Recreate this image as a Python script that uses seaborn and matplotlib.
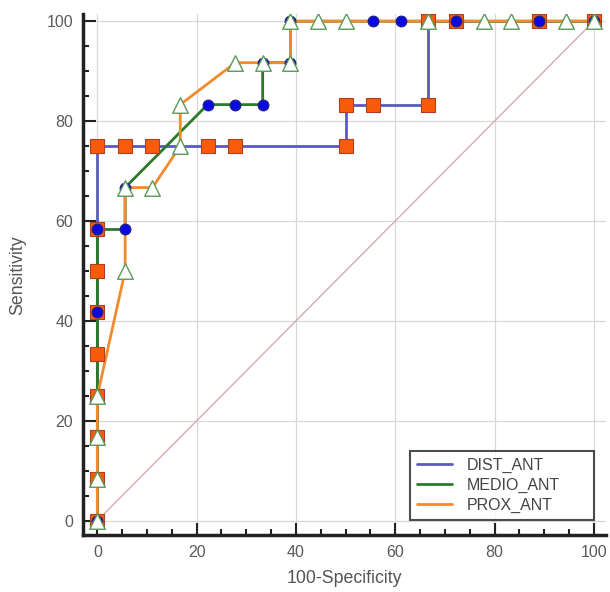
import matplotlib
matplotlib.use("Agg")
import matplotlib.pyplot as plt
import matplotlib.ticker as mticker
from matplotlib.lines import Line2D
import seaborn as sns

# ROC criterion points (100-Specificity, Sensitivity)
dist_x = [0, 0, 0, 0, 0, 0, 0, 0, 0, 5.6, 11.1, 22.2, 27.8, 50, 50, 55.6, 66.7, 66.7, 72.2, 88.9, 100]
dist_y = [0, 8.3, 16.7, 25, 33.3, 41.7, 50, 58.3, 75, 75, 75, 75, 75, 75, 83.3, 83.3, 83.3, 100, 100, 100, 100]

medio_x = [0, 0, 0, 5.6, 5.6, 22.2, 27.8, 33.3, 33.3, 38.9, 38.9, 55.6, 61.1, 72.2, 88.9, 100]
medio_y = [0, 41.7, 58.3, 58.3, 66.7, 83.3, 83.3, 83.3, 91.7, 91.7, 100, 100, 100, 100, 100, 100]

prox_x = [0, 0, 0, 0, 5.6, 5.6, 11.1, 16.7, 16.7, 27.8, 33.3, 38.9, 38.9, 44.4, 50, 66.7, 77.8, 83.3, 94.4, 100]
prox_y = [0, 8.3, 16.7, 25, 50, 66.7, 66.7, 75, 83.3, 91.7, 91.7, 91.7, 100, 100, 100, 100, 100, 100, 100, 100]

labels = ["DIST_ANT", "MEDIO_ANT", "PROX_ANT"]
line_colors = ["#5b5bbd", "#2a7a2a", "#f28a2e"]

sns.set_theme(style="white")
plt.rcParams["font.family"] = ["Liberation Sans", "DejaVu Sans"]

fig = plt.figure(figsize=(6.1, 5.92), dpi=100)
ax = fig.add_axes([0.136, 0.096, 0.857, 0.880])

# chance diagonal
ax.plot([0, 100], [0, 100], color="#d9a9ae", lw=1, zorder=1)

curves = [(dist_x, dist_y), (medio_x, medio_y), (prox_x, prox_y)]
for (xs, ys), c in zip(curves, line_colors):
    sns.lineplot(x=xs, y=ys, sort=False, estimator=None, color=c, lw=2,
                 ax=ax, zorder=2)

# markers, drawn after every line
sns.scatterplot(x=dist_x, y=dist_y, marker="s", s=95, color="#f85c0a",
                edgecolor="#b04020", linewidth=0.8, ax=ax, zorder=3)
sns.scatterplot(x=medio_x, y=medio_y, marker="o", s=60, color="#0a0ae0",
                edgecolor="#202080", linewidth=0.8, ax=ax, zorder=4)
sns.scatterplot(x=prox_x, y=prox_y, marker="^", s=125, color="white",
                edgecolor="#5a9a5a", linewidth=1.0, ax=ax, zorder=5)

ax.set_xlim(-2.9, 102.4)
ax.set_ylim(-2.9, 101.4)
ax.xaxis.set_major_locator(mticker.MultipleLocator(20))
ax.yaxis.set_major_locator(mticker.MultipleLocator(20))
ax.xaxis.set_minor_locator(mticker.MultipleLocator(5))
ax.yaxis.set_minor_locator(mticker.MultipleLocator(5))
ax.tick_params(which="major", direction="in", length=9, width=1.5,
               color="#222222", labelsize=11.5, labelcolor="#5a5a5a",
               pad=7, bottom=True, left=True)
ax.tick_params(which="minor", direction="in", length=4, width=1.5,
               color="#222222", bottom=True, left=True)
ax.grid(True, which="major", color="#d9d9d9", lw=0.9)
ax.set_axisbelow(True)

for side in ["top", "right"]:
    ax.spines[side].set_visible(False)
for side in ["left", "bottom"]:
    ax.spines[side].set_color("#222222")
    ax.spines[side].set_linewidth(2.5)

ax.set_xlabel("100-Specificity", fontsize=12.8, color="#555555", labelpad=7)
ax.set_ylabel("Sensitivity", fontsize=12.8, color="#555555", labelpad=15)

handles = [Line2D([], [], color=c, lw=2) for c in line_colors]
leg = ax.legend(handles, labels, loc="lower left", mode="expand",
                bbox_to_anchor=(0.625, 0.029, 0.352, 0.14), borderaxespad=0,
                fontsize=11.5, frameon=True, fancybox=False, handlelength=2.2,
                borderpad=0.45, labelspacing=0.3, handletextpad=0.9)
leg.get_frame().set_edgecolor("#222222")
leg.get_frame().set_linewidth(1.5)
for t in leg.get_texts():
    t.set_color("#444444")

fig.savefig("out.png", dpi=100)
